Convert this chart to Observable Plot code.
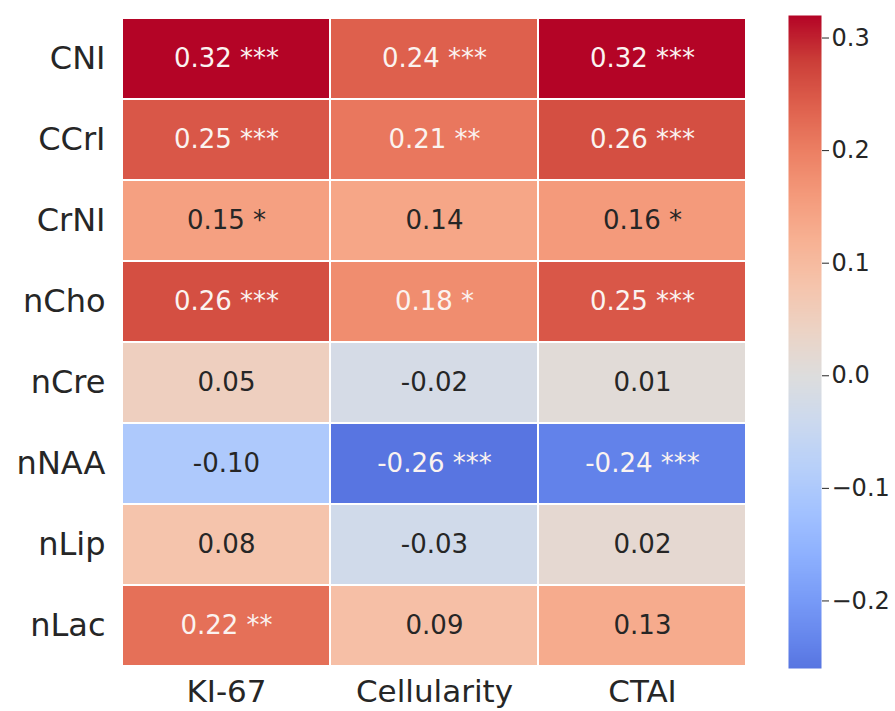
<!DOCTYPE html>
<html>
<head>
<meta charset="utf-8">
<script src="https://cdn.jsdelivr.net/npm/d3@7"></script>
<script src="https://cdn.jsdelivr.net/npm/@observablehq/plot@0.6"></script>
<style>
  html, body { margin: 0; padding: 0; background: #fff; }
  #chart { position: relative; width: 895px; height: 711px; background: #fff; }
  #chart > svg { position: absolute; top: 0; }
</style>
</head>
<body>
<div id="chart"></div>
<script>
// Correlation of MRS indices with histological markers
const rows = ["CNI", "CCrI", "CrNI", "nCho", "nCre", "nNAA", "nLip", "nLac"];
const cols = ["KI-67", "Cellularity", "CTAI"];

// coefficients per column, in row order
const ki67        = [0.32, 0.25, 0.15, 0.26, 0.05, -0.10, 0.08, 0.22];
const cellularity = [0.24, 0.21, 0.14, 0.18, -0.02, -0.26, -0.03, 0.09];
const ctai        = [0.32, 0.26, 0.16, 0.25, 0.01, -0.24, 0.02, 0.13];

// significance stars per column, in row order
const ki67Stars        = ["***", "***", "*", "***", "", "", "", "**"];
const cellularityStars = ["***", "**", "", "*", "", "***", "", ""];
const ctaiStars        = ["***", "***", "*", "***", "", "***", "", ""];

const colorbarTicks = [-0.2, -0.1, 0.0, 0.1, 0.2, 0.3];

// coolwarm diverging palette (Moreland)
const coolwarm = [
  "#3b4cc0", "#4d68d7", "#6282ea", "#779af7", "#8db0fe", "#a3c2ff",
  "#b8d0f9", "#ccd9ee", "#dddddd", "#ecd3c5", "#f5c4ac", "#f7b193",
  "#f49a7b", "#ec7f63", "#de604d", "#cb3e38", "#b40426"
];

const seriesValues = [ki67, cellularity, ctai];
const seriesStars = [ki67Stars, cellularityStars, ctaiStars];
const table = [];
cols.forEach((col, j) => {
  rows.forEach((row, i) => {
    table.push({row, col, value: seriesValues[j][i], stars: seriesStars[j][i]});
  });
});

const [vmin, vmax] = d3.extent(table, d => d.value);
const half = Math.max(Math.abs(vmin), Math.abs(vmax));
const colorOptions = {
  type: "linear",
  domain: [-half, half],
  interpolate: d3.piecewise(d3.interpolateRgb, coolwarm)
};
const colorScale = Plot.scale({color: colorOptions});

// light labels on dark cells, dark labels on light cells
function luminance(c) {
  const {r, g, b} = d3.rgb(c);
  const lin = v => { v /= 255; return v <= 0.03928 ? v / 12.92 : Math.pow((v + 0.055) / 1.055, 2.4); };
  return 0.2126 * lin(r) + 0.7152 * lin(g) + 0.0722 * lin(b);
}
const isDark = d => luminance(colorScale.apply(d.value)) <= 0.408;
const label = d => d.value.toFixed(2) + (d.stars ? " " + d.stars : "");

const font = "'DejaVu Sans', sans-serif";
const ink = "#262626";

const heatmap = Plot.plot({
  width: 760,
  height: 711,
  marginLeft: 121,
  marginRight: 13,
  marginTop: 15,
  marginBottom: 43,
  style: {fontFamily: font, color: ink, background: "transparent"},
  x: {domain: cols, padding: 0, axis: null},
  y: {domain: rows, padding: 0, axis: null},
  color: colorOptions,
  marks: [
    Plot.cell(table, {x: "col", y: "row", fill: "value", inset: 1}),
    Plot.text(table.filter(isDark), {x: "col", y: "row", text: label, fill: "#fbf3f0", fontSize: 26}),
    Plot.text(table.filter(d => !isDark(d)), {x: "col", y: "row", text: label, fill: ink, fontSize: 26}),
    Plot.axisX({anchor: "bottom", tickSize: 0, tickPadding: 11, fontSize: 31, label: null, fill: ink}),
    Plot.axisY({anchor: "left", tickSize: 0, tickPadding: 16, fontSize: 32, label: null, fill: ink})
  ]
});
heatmap.style.left = "0px";

const colorbar = Plot.plot({
  width: 135,
  height: 711,
  marginLeft: 28,
  marginRight: 74,
  marginTop: 15,
  marginBottom: 43,
  style: {fontFamily: font, color: ink, background: "transparent"},
  x: {domain: [0, 1], axis: null},
  y: {domain: [vmin, vmax], axis: null},
  color: colorOptions,
  marks: [
    Plot.raster({x1: 0, x2: 1, y1: vmin, y2: vmax, width: 2, height: 600, fill: (x, y) => y}),
    Plot.axisY({
      anchor: "right", ticks: colorbarTicks, tickFormat: d3.format(".1f"),
      tickSize: 7, tickPadding: 3, fontSize: 24, label: null, fill: ink, stroke: ink
    })
  ]
});
colorbar.style.left = "760px";

const chart = document.getElementById("chart");
chart.append(heatmap, colorbar);
</script>
</body>
</html>
